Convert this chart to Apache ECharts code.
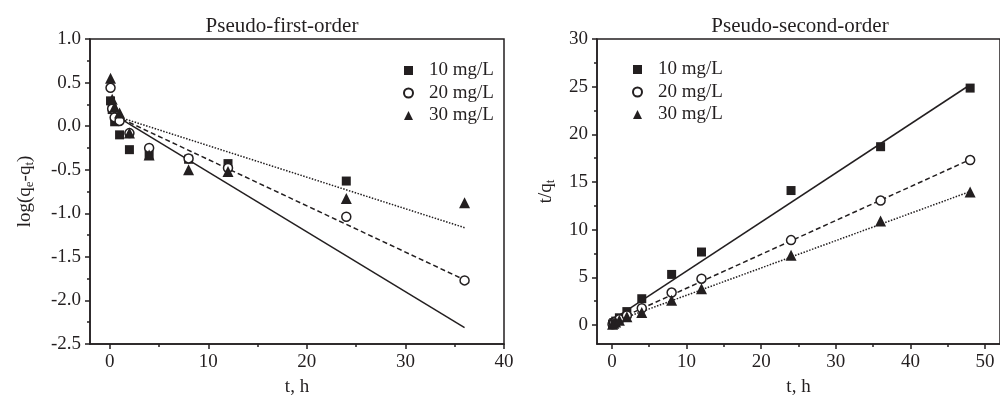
<!DOCTYPE html>
<html><head><meta charset="utf-8">
<script src="https://cdn.jsdelivr.net/npm/echarts@6/dist/echarts.min.js"></script>
<style>html,body{margin:0;padding:0;background:#fff}#c{width:1000px;height:402px}</style>
</head><body><div id="c"></div>
<script>
// ---------- data ----------
const seriesNames = ['10 mg/L', '20 mg/L', '30 mg/L'];

// Pseudo-first-order: log(qe-qt) vs t
const tFirst = [0.083, 0.25, 0.5, 1, 2, 4, 8, 12, 24, 36];
const pfo10 = [0.29, 0.19, 0.05, -0.10, -0.27, -0.33, -0.38, -0.43, -0.63, null];
const pfo20 = [0.44, 0.20, 0.10, 0.06, -0.08, -0.25, -0.37, -0.48, -1.04, -1.77];
const pfo30 = [0.55, 0.31, 0.22, 0.15, -0.08, -0.33, -0.50, -0.52, -0.83, -0.88];
const pfoFitT = [0.5, 36];
const pfoFit10 = [0.126, -2.313];
const pfoFit20 = [0.121, -1.764];
const pfoFit30 = [0.120, -1.165];

// Pseudo-second-order: t/qt vs t
const tSecond = [0.083, 0.25, 0.5, 1, 2, 4, 8, 12, 24, 36, 48];
const pso10 = [0.10, 0.25, 0.40, 0.75, 1.40, 2.75, 5.30, 7.65, 14.10, 18.70, 24.85];
const pso20 = [0.08, 0.20, 0.35, 0.60, 1.00, 1.75, 3.40, 4.85, 8.90, 13.05, 17.30];
const pso30 = [0.07, 0.17, 0.30, 0.50, 0.85, 1.30, 2.60, 3.80, 7.30, 10.90, 13.95];
const psoFitT = [0, 48];
const psoFit10 = [0.5, 25.2];
const psoFit20 = [0.3, 17.35];
const psoFit30 = [0.25, 14.0];

// ticks
const pfoXTicks = [0, 10, 20, 30, 40];
const pfoXMinor = [5, 15, 25, 35];
const pfoYTicks = [-2.5, -2.0, -1.5, -1.0, -0.5, 0.0, 0.5, 1.0];
const pfoYMinor = [-2.25, -1.75, -1.25, -0.75, -0.25, 0.25, 0.75];
const psoXTicks = [0, 10, 20, 30, 40, 50];
const psoXMinor = [5, 15, 25, 35, 45];
const psoYTicks = [0, 5, 10, 15, 20, 25, 30];
const psoYMinor = [2.5, 7.5, 12.5, 17.5, 22.5, 27.5];

// ---------- styling ----------
const INK = '#231f20';
const FONT = '"Liberation Serif", "Times New Roman", serif';
const FS = 19;

function pairs(xs, ys) { return xs.map((x, i) => [x, ys[i]]).filter(p => p[1] !== null); }

function axisPair(dim, gridIndex, min, max, major, minor, fmt, name, nameGap, nameRich) {
  const base = {
    type: 'value', gridIndex, min, max,
    position: dim === 'x' ? 'bottom' : 'left',
    splitLine: { show: false }
  };
  const main = Object.assign({}, base, {
    axisLine: { show: true, onZero: false, lineStyle: { color: INK, width: 1.5 } },
    axisTick: { show: true, inside: false, length: 5, customValues: major, lineStyle: { color: INK, width: 1.5 } },
    axisLabel: { show: true, customValues: major, formatter: fmt, margin: 9, color: INK, fontFamily: FONT, fontSize: FS },
    name: name, nameLocation: 'middle', nameGap: nameGap,
    nameRotate: dim === 'y' ? 90 : 0,
    nameTextStyle: { color: INK, fontFamily: FONT, fontSize: FS, rich: nameRich }
  });
  const sub = Object.assign({}, base, {
    axisLine: { show: false, onZero: false },
    axisTick: { show: true, inside: false, length: 3, customValues: minor, lineStyle: { color: INK, width: 1.5 } },
    axisLabel: { show: false }
  });
  return [main, sub];
}

const subRich = {
  s: { fontFamily: FONT, fontSize: 13, color: INK, lineHeight: 13, padding: [12, 0, 0, 0], verticalAlign: 'bottom' },
  n: { fontFamily: FONT, fontSize: FS, color: INK, lineHeight: 22, verticalAlign: 'middle' }
};

const fmt1 = v => v.toFixed(1);
const fmt0 = v => String(v);

const [x0, x0m] = axisPair('x', 0, -2, 40, pfoXTicks, pfoXMinor, fmt0, 't, h', 34);
const [x1, x1m] = axisPair('x', 1, -2, 52, psoXTicks, psoXMinor, fmt0, 't, h', 34);
const [y0, y0m] = axisPair('y', 0, -2.5, 1.0, pfoYTicks, pfoYMinor, fmt1, '{n|log(q}{s|e}{n|-q}{s|t}{n|)}', 54, subRich);
const [y1, y1m] = axisPair('y', 1, -2, 30, psoYTicks, psoYMinor, fmt0, '{n|t/q}{s|t}', 40, subRich);

const markerStyles = [
  { symbol: 'rect', symbolSize: 9, itemStyle: { color: INK, opacity: 1 } },
  { symbol: 'circle', symbolSize: 9, itemStyle: { color: '#fff', borderColor: INK, borderWidth: 1.5, opacity: 1 } },
  { symbol: 'triangle', symbolSize: 11, itemStyle: { color: INK, opacity: 1 } }
];
const lineTypes = ['solid', [5, 3], [1.5, 1.5]];

function scatter(name, i, xi, yi, xs, ys) {
  return Object.assign({ type: 'scatter', name, xAxisIndex: xi, yAxisIndex: yi, data: pairs(xs, ys), z: 5, silent: true }, markerStyles[i]);
}
function fit(i, xi, yi, xs, ys) {
  return {
    type: 'line', name: 'fit' + xi + '_' + i, xAxisIndex: xi, yAxisIndex: yi, data: pairs(xs, ys),
    symbol: 'none', showSymbol: false, silent: true, z: 3,
    lineStyle: { color: INK, width: 1.5, type: lineTypes[i] }
  };
}

const legendCommon = {
  orient: 'vertical', itemWidth: 9, itemHeight: 9, itemGap: 3.5, selectedMode: false,
  data: seriesNames,
  itemStyle: { opacity: 1 },
  textStyle: { color: INK, fontFamily: FONT, fontSize: FS, lineHeight: 19, padding: [0, 0, 0, 11] }
};

const option = {
  backgroundColor: '#fff',
  animation: false,
  title: [
    { text: 'Pseudo-first-order', left: 277, top: 11, textAlign: 'center',
      textStyle: { color: INK, fontFamily: FONT, fontSize: 21, fontWeight: 'normal' } },
    { text: 'Pseudo-second-order', left: 795, top: 11, textAlign: 'center',
      textStyle: { color: INK, fontFamily: FONT, fontSize: 21, fontWeight: 'normal' } }
  ],
  legend: [
    Object.assign({ left: 398, top: 56 }, legendCommon),
    Object.assign({ left: 627, top: 55 }, legendCommon)
  ],
  grid: [
    { left: 90, top: 39, width: 414, height: 308, show: true, borderColor: INK, borderWidth: 1.5, backgroundColor: 'transparent' },
    { left: 597, top: 39, width: 413, height: 308, show: true, borderColor: INK, borderWidth: 1.5, backgroundColor: 'transparent' }
  ],
  xAxis: [x0, x1, x0m, x1m],
  yAxis: [y0, y1, y0m, y1m],
  series: [
    fit(0, 0, 0, pfoFitT, pfoFit10),
    fit(1, 0, 0, pfoFitT, pfoFit20),
    fit(2, 0, 0, pfoFitT, pfoFit30),
    scatter(seriesNames[0], 0, 0, 0, tFirst, pfo10),
    scatter(seriesNames[1], 1, 0, 0, tFirst, pfo20),
    scatter(seriesNames[2], 2, 0, 0, tFirst, pfo30),
    fit(0, 1, 1, psoFitT, psoFit10),
    fit(1, 1, 1, psoFitT, psoFit20),
    fit(2, 1, 1, psoFitT, psoFit30),
    scatter(seriesNames[0], 0, 1, 1, tSecond, pso10),
    scatter(seriesNames[1], 1, 1, 1, tSecond, pso20),
    scatter(seriesNames[2], 2, 1, 1, tSecond, pso30)
  ]
};

const chart = echarts.init(document.getElementById('c'), null, { renderer: 'canvas' });
chart.setOption(option);
</script>
</body></html>
